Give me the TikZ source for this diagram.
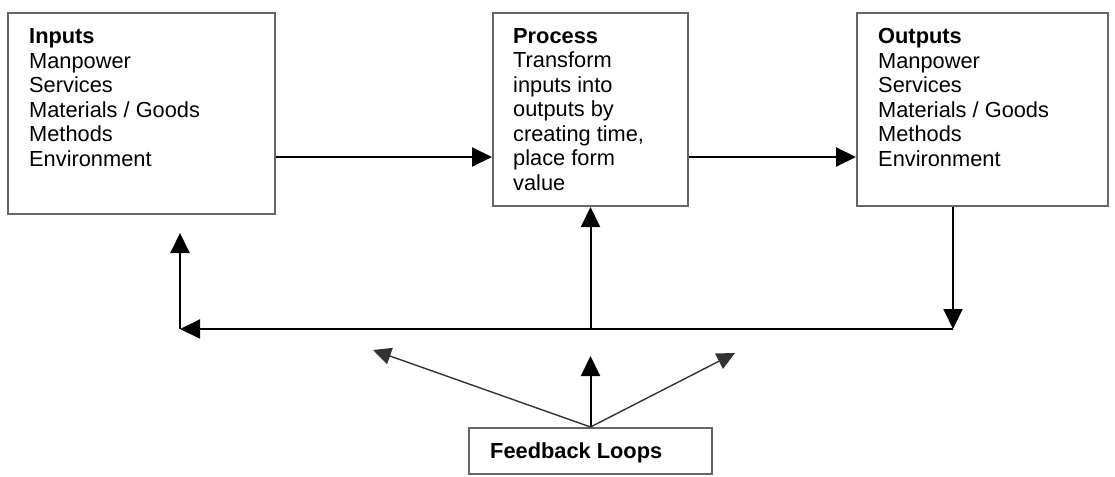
\documentclass[tikz,border=0pt]{standalone}
\usepackage{fontspec}
\setmainfont{Liberation Sans}
\usetikzlibrary{arrows.meta, calc, positioning}

\begin{document}
\begin{tikzpicture}[x=1pt, y=-1pt,
    box/.style={draw=black!60, line width=2pt, inner sep=0pt},
    boxtext/.style={anchor=base west, align=left, inner sep=0pt, font=\fontsize{21.8}{24.5}\selectfont},
    flow/.style={line width=2pt, -{Triangle[length=20pt, width=19pt]}},
    thin flow/.style={line width=1.4pt, draw=black!80, -{Triangle[length=18pt, width=17pt]}}]
            \useasboundingbox (0,0) rectangle (1115,476);

            % the three stages
            \node[box, minimum width=267, minimum height=201] (inputs) at (141.5,113.5) {};
            \node[box, minimum width=195, minimum height=193] (process) at (590.5,109.5) {};
            \node[box, minimum width=251, minimum height=193] (outputs) at (982.5,109.5) {};
            \node[box, minimum width=243, minimum height=46] (feedback) at (590.5,451) {};

            % base anchor sits on the last line
            \node[boxtext] (inputstext) at (29,166) {\textbf{Inputs}\\Manpower\\Services\\Materials / Goods\\Methods\\Environment};
            \node[boxtext] (processtext) at (513,190) {\textbf{Process}\\Transform\\inputs into\\outputs by\\creating time,\\place form\\value};
            \node[boxtext] (outputstext) at (878,166) {\textbf{Outputs}\\Manpower\\Services\\Materials / Goods\\Methods\\Environment};
            \node[boxtext] (feedbacktext) at (490,458) {\textbf{Feedback Loops}};

            % loop corners
            \coordinate (rightdrop) at (953,329);
            \coordinate (leftcorner) at (180,329);
            \coordinate (lefttip) at (180,233);
            \coordinate (midjoin) at (process.south |- rightdrop);

            \draw[flow] (inputs.east |- 0,157) -- (process.west |- 0,157);
            \draw[flow] (process.east |- 0,157) -- (outputs.west |- 0,157);

            \draw[flow] (rightdrop |- outputs.south) -- (rightdrop);
            \draw[flow] (rightdrop) -- (leftcorner);
            \draw[flow] (leftcorner) -- (lefttip);
            \draw[flow] (midjoin) -- (process.south);

            % feedback arrows
            \coordinate (fbleft) at (373,350);
            \coordinate (fbup) at (feedback.north |- 0,356);
            \coordinate (fbright) at (735,353);
            \draw[thin flow] (feedback.north) -- (fbleft);
            \draw[flow] (feedback.north) -- (fbup);
            \draw[thin flow] (feedback.north) -- (fbright);
        \end{tikzpicture}
\end{document}
